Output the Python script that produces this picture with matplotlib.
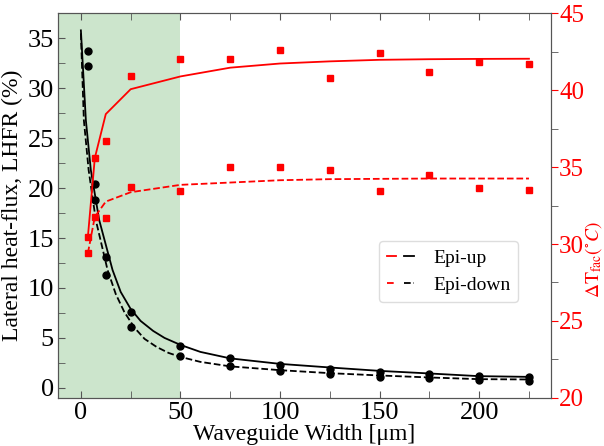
import matplotlib
matplotlib.use("Agg")
import matplotlib.pyplot as plt
from matplotlib.ticker import MultipleLocator
from matplotlib.legend_handler import HandlerTuple

plt.rcParams["font.family"] = ["Liberation Serif", "DejaVu Serif"]
plt.rcParams["mathtext.fontset"] = "stix"

# measured widths (um)
widths = [3.5, 7, 12.5, 25, 50, 75, 100, 125, 150, 175, 200, 225]

# lateral heat-flux ratio (%)
lhfr_up = [33.7, 20.4, 13.1, 7.55, 4.2, 2.94, 2.27, 1.87, 1.54, 1.37, 1.2, 1.04]
lhfr_down = [32.2, 18.8, 11.3, 6.1, 3.2, 2.2, 1.67, 1.34, 1.1, 0.94, 0.77, 0.7]

# fitted LHFR curves
fit_up_x = [0, 2.5, 5, 9.2, 15.9, 20, 25, 30, 36.3, 42, 50, 60, 75, 100,
            125, 150, 175, 200, 225]
fit_up_y = [35.8, 26.8, 21.8, 16.8, 11.8, 9.6, 7.9, 6.7, 5.7, 5.0, 4.3, 3.6,
            2.95, 2.4, 2.04, 1.7, 1.44, 1.17, 1.1]
fit_down_x = [0, 1.5, 3.9, 7.5, 13.4, 17.5, 21.8, 27, 32, 38, 44, 50, 60, 75,
              100, 125, 150, 175, 200, 225]
fit_down_y = [35.5, 26.8, 21.8, 16.8, 11.8, 9.4, 7.6, 6.0, 4.9, 4.1, 3.5, 3.1,
              2.6, 2.15, 1.77, 1.47, 1.24, 1.04, 0.87, 0.84]

# facet temperature rise (C)
dt_up = [30.45, 35.6, 36.67, 40.9, 42.06, 42.02, 42.63, 40.83, 42.41, 41.22, 41.83, 41.72]
dt_down = [29.4, 31.77, 31.7, 33.74, 33.46, 35.02, 35.02, 34.8, 33.44, 34.48, 33.63, 33.54]

# trend lines for temperature
dt_up_line = [30.45, 35.6, 38.45, 40.07, 40.9, 41.47, 41.74, 41.88, 41.98, 42.02, 42.04, 42.05]
dt_down_line = [29.4, 31.77, 32.76, 33.37, 33.85, 34.0, 34.15, 34.22, 34.24, 34.26, 34.26, 34.26]

fig, ax = plt.subplots(figsize=(6.04, 4.46), dpi=100)
fig.subplots_adjust(left=0.096, right=0.912, bottom=0.108, top=0.97)

ax.axvspan(-20, 50, color="green", alpha=0.2, lw=0)

l_up, = ax.plot(fit_up_x, fit_up_y, "k-", lw=1.3)
l_down, = ax.plot(fit_down_x, fit_down_y, "k--", lw=1.3)
ax.plot(widths, lhfr_up, "ko", ms=5)
ax.plot(widths, lhfr_down, "ko", ms=5)

ax.set_xlim(-11.5, 236)
ax.set_ylim(-1, 37.5)
ax.xaxis.set_major_locator(MultipleLocator(50))
ax.xaxis.set_minor_locator(MultipleLocator(25))
ax.yaxis.set_major_locator(MultipleLocator(5))
ax.yaxis.set_minor_locator(MultipleLocator(2.5))
ax.tick_params(which="both", direction="in", top=True, right=False,
               labelsize=19, color="#555555", pad=3)
ax.tick_params(which="major", length=5)
ax.tick_params(which="minor", length=5)
ax.set_xlabel("Waveguide Width [\u03bcm]", fontsize=17, labelpad=0)
ax.set_ylabel("Lateral heat-flux, LHFR (%)", fontsize=17, labelpad=3)
for s in ax.spines.values():
    s.set_color("#555555")

ax2 = ax.twinx()
r_up, = ax2.plot(widths, dt_up_line, "r-", lw=1.3)
r_down, = ax2.plot(widths, dt_down_line, "r--", lw=1.3)
ax2.plot(widths, dt_up, "rs", ms=5)
ax2.plot(widths, dt_down, "rs", ms=5)
ax2.set_ylim(20, 45)
ax2.yaxis.set_major_locator(MultipleLocator(5))
ax2.yaxis.set_minor_locator(MultipleLocator(2.5))
ax2.tick_params(axis="y", which="both", direction="out", labelsize=18,
                labelcolor="red", color="#555555", length=5, pad=1)
ax2.tick_params(axis="y", which="major", color="red")
ax2.set_ylabel(r"$\Delta\mathrm{T_{fac}}(^{\circ}C)$", color="red", fontsize=14)
ax2.yaxis.set_label_coords(1.066, 0.36)
for s in ax2.spines.values():
    s.set_color("#555555")

leg = ax2.legend([(r_up, l_up), (r_down, l_down)], ["Epi-up", "Epi-down"],
                 handler_map={tuple: HandlerTuple(ndivide=None, pad=0.4)},
                 loc="lower left", bbox_to_anchor=(0.651, 0.25),
                 borderaxespad=0, fontsize=14, handlelength=1.4,
                 handletextpad=1.0, fancybox=True, framealpha=1,
                 edgecolor="#dddddd")

fig.savefig("out.png")
